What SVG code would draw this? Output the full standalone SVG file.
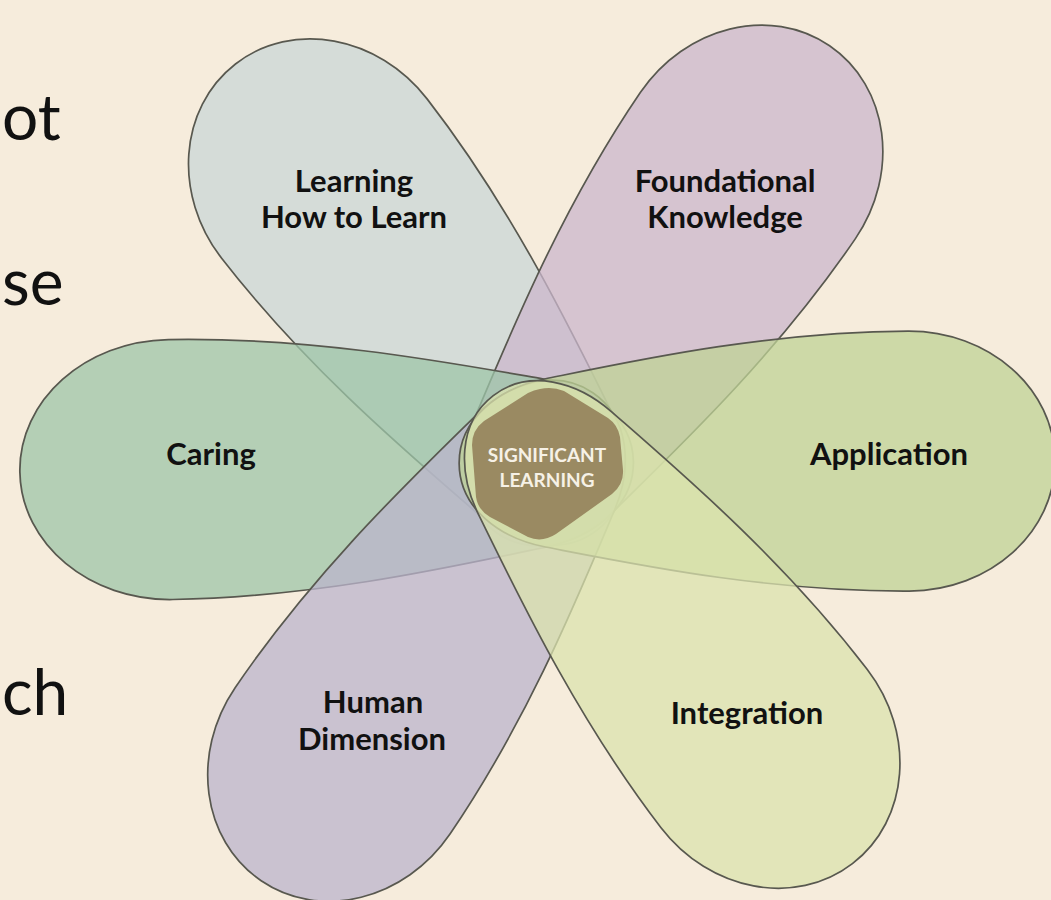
<svg xmlns="http://www.w3.org/2000/svg" xmlns:xlink="http://www.w3.org/1999/xlink" width="1051" height="900" viewBox="0 0 1051 900">
<style>
.petal{stroke:#58584f;stroke-width:1.7;fill-opacity:0.75}
.lbl{font-family:Lato,"Open Sans","Liberation Sans",sans-serif;font-weight:bold;font-size:31px;fill:#111;text-anchor:middle}
.ctr{font-family:Lato,"Open Sans","Liberation Sans",sans-serif;font-weight:bold;font-size:19px;fill:#f6f1e6;text-anchor:middle}
.side{font-family:Lato,"Open Sans","Liberation Sans",sans-serif;font-size:64px;fill:#111;text-anchor:start}
</style>
<defs>
<path id="petal" d="M -85,0 C -85,-45 -45,-75 0,-84 C 90,-102 220,-130 360,-130 C 440,-130 505,-72 505,0 C 505,72 440,130 360,130 C 220,130 90,102 0,84 C -45,75 -85,45 -85,0 Z"/>
</defs>
<rect width="1051" height="900" fill="#f6ecdc"/>
<g id="side-text">
<text class="side" x="2" y="140">ot</text>
<text class="side" x="2" y="305">se</text>
<text class="side" x="2" y="715">ch</text>
</g>
<g id="learning-how-to-learn">
<use xlink:href="#petal" class="petal" fill="#cad7d7" transform="translate(545,463) rotate(232.2)"/>
</g>
<g id="foundational-knowledge">
<use xlink:href="#petal" class="petal" fill="#cbb7cc" transform="translate(545,463) rotate(-55.7)"/>
</g>
<g id="caring">
<use xlink:href="#petal" class="petal" fill="#9dc5a8" transform="translate(545,463) rotate(179) scale(1.04,1)"/>
</g>
<g id="human-dimension">
<use xlink:href="#petal" class="petal" fill="#bbb4cc" transform="translate(545,463) rotate(124.2)"/>
</g>
<g id="application">
<use xlink:href="#petal" class="petal" fill="#bfd395" transform="translate(545,463) rotate(-0.3) scale(1.01,1)"/>
</g>
<g id="integration">
<use xlink:href="#petal" class="petal" fill="#dbe3ad" transform="translate(545,463) rotate(52.5)"/>
</g>
<g id="significant-learning">
<path d="M 540,389 Q 552,386 564,391 L 608,418 Q 618,425 620,437 L 623,470 Q 624,484 612,494 L 556,534 Q 542,543 528,537 L 490,517 Q 478,510 476,497 L 472,445 Q 472,430 484,421 L 528,393 Q 534,390 540,389 Z" fill="#9a8a62" stroke="none"/>
<text class="ctr" x="547" y="462">SIGNIFICANT</text>
<text class="ctr" x="547" y="487">LEARNING</text>
</g>
<g id="labels">
<text class="lbl" x="354" y="192">Learning</text>
<text class="lbl" x="354" y="228">How to Learn</text>
<text class="lbl" x="725" y="192">Foundational</text>
<text class="lbl" x="725" y="228">Knowledge</text>
<text class="lbl" x="211" y="465">Caring</text>
<text class="lbl" x="889" y="465">Application</text>
<text class="lbl" x="373" y="713">Human</text>
<text class="lbl" x="372" y="750">Dimension</text>
<text class="lbl" x="747" y="724">Integration</text>
</g>
</svg>
